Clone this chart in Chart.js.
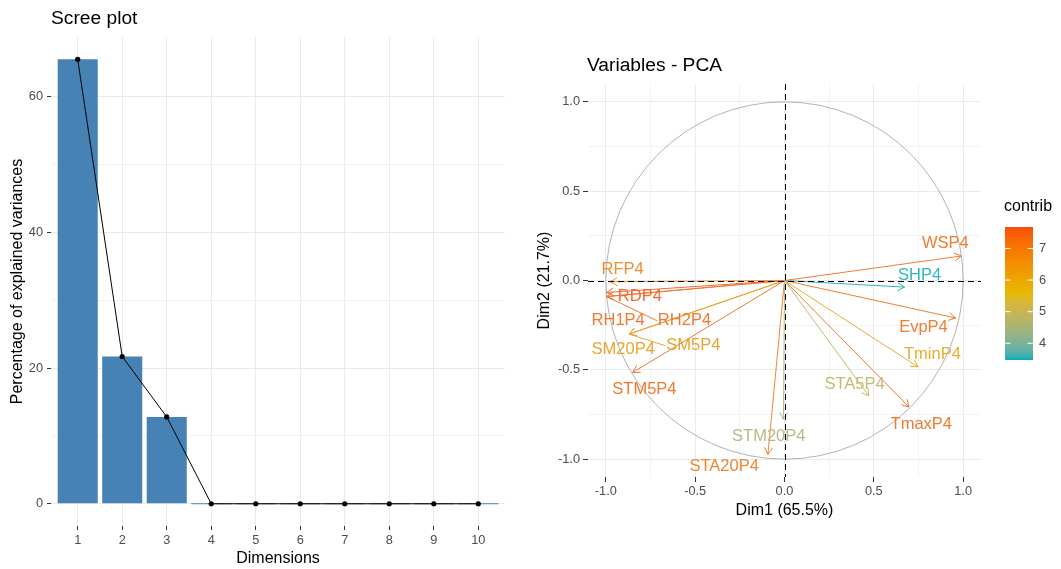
<!DOCTYPE html>
<html><head><meta charset="utf-8">
<script src="https://cdn.jsdelivr.net/npm/chart.js@4/dist/chart.umd.min.js"></script>
<style>
html,body{margin:0;padding:0;background:#fff;width:1061px;height:569px;overflow:hidden}
#w1{position:absolute;left:0;top:0;width:520px;height:569px}
#w2{position:absolute;left:530px;top:0;width:531px;height:569px}
</style></head><body>
<div id="w1"><canvas id="c1" width="520" height="569"></canvas></div>
<div id="w2"><canvas id="c2" width="531" height="569"></canvas></div>
<script>
// ---------------- data ----------------
const dimensions = [1, 2, 3, 4, 5, 6, 7, 8, 9, 10];
const explainedVariance = [65.5, 21.7, 12.8, 0, 0, 0, 0, 0, 0, 0];
const screeYTicks = [0, 20, 40, 60];
const screeYMinor = [10, 30, 50];

const variables = ['WSP4','SHP4','EvpP4','TminP4','STA5P4','TmaxP4','STM20P4','STA20P4','STM5P4','SM20P4','SM5P4','RH1P4','RH2P4','RFP4','RDP4'];
const dim1 = [0.99, 0.672, 0.958, 0.747, 0.472, 0.697, -0.006, -0.093, -0.85, -0.87, -0.87, -0.995, -0.995, -0.975, -0.995];
const dim2 = [0.137, -0.037, -0.21, -0.483, -0.646, -0.708, -0.777, -0.974, -0.515, -0.30, -0.30, -0.09, -0.09, -0.007, -0.067];
const contrib = [7.3, 3.47, 7.3, 6.05, 4.9, 7.4, 4.6, 7.1, 7.4, 6.3, 6.3, 7.4, 7.4, 6.9, 7.68];
const pcaTickValues = [-1, -0.5, 0, 0.5, 1];
const pcaTickLabels = ['-1.0', '-0.5', '0.0', '0.5', '1.0'];
const pcaMinorTicks = [-0.75, -0.25, 0.25, 0.75];
const contribTicks = [4, 5, 6, 7];

// label placement (layout only, in axis units) – repelled text positions
const labelPlacement = {
  WSP4: [0.90, 0.21], SHP4: [0.756, 0.028], EvpP4: [0.778, -0.262], TminP4: [0.828, -0.412],
  STA5P4: [0.392, -0.584], TmaxP4: [0.766, -0.805], STM20P4: [-0.088, -0.875], STA20P4: [-0.338, -1.039],
  STM5P4: [-0.784, -0.608], SM20P4: [-0.903, -0.384], SM5P4: [-0.51, -0.365], RH1P4: [-0.931, -0.225],
  RH2P4: [-0.56, -0.225], RFP4: [-0.906, 0.062], RDP4: [-0.81, -0.09]
};
const labelLeaders = ['RH2P4', 'SM5P4'];

// ---------------- style helpers ----------------
const FONT = '"Liberation Sans", Arial, sans-serif';
Chart.defaults.font.family = FONT;
Chart.defaults.animation = false;
const TICK_TXT = '#4D4D4D';
const GRID = '#EBEBEB';
const GRID_MINOR = '#F3F3F3';
const TICK_MARK = '#333333';

function hex2rgb(h){return [1,3,5].map(i=>parseInt(h.slice(i,i+2),16));}
function lin(c){c/=255;return c<=0.04045?c/12.92:Math.pow((c+0.055)/1.055,2.4);}
function delin(c){c=c<=0.0031308?12.92*c:1.055*Math.pow(c,1/2.4)-0.055;return Math.max(0,Math.min(255,Math.round(c*255)));}
function rgb2lab(rgb){const [r,g,b]=rgb.map(lin);const X=(0.4124*r+0.3576*g+0.1805*b)/0.95047,Y=(0.2126*r+0.7152*g+0.0722*b),Z=(0.0193*r+0.1192*g+0.9505*b)/1.08883;const f=t=>t>0.008856?Math.cbrt(t):7.787*t+16/116;const fx=f(X),fy=f(Y),fz=f(Z);return [116*fy-16,500*(fx-fy),200*(fy-fz)];}
function lab2rgb(lab){const fy=(lab[0]+16)/116,fx=fy+lab[1]/500,fz=fy-lab[2]/200;const fi=t=>t*t*t>0.008856?t*t*t:(t-16/116)/7.787;const X=fi(fx)*0.95047,Y=fi(fy),Z=fi(fz)*1.08883;const r=3.2406*X-1.5372*Y-0.4986*Z,g=-0.9689*X+1.8758*Y+0.0415*Z,b=0.0557*X-0.2040*Y+1.0570*Z;return [delin(r),delin(g),delin(b)];}
const gradStops = ['#00AFBB','#E7B800','#FC4E07'].map(h=>rgb2lab(hex2rgb(h)));
const cMin = Math.min(...contrib), cMax = Math.max(...contrib);
function contribRGB(v){
  let t=(v-cMin)/(cMax-cMin); t=Math.max(0,Math.min(1,t));
  const s=t*2; const i=Math.min(1,Math.floor(s)); const u=s-i;
  const a=gradStops[i], b=gradStops[i+1];
  return lab2rgb(a.map((x,k)=>x+(b[k]-x)*u));
}
function contribColor(v){ const c = contribRGB(v); return `rgb(${c[0]},${c[1]},${c[2]})`; }
// slightly softened tone for thin marks and text (as in the rendered reference)
function markColor(v){ const c = contribRGB(v).map(x => Math.round(x * 0.78 + 205 * 0.22)); return `rgb(${c[0]},${c[1]},${c[2]})`; }

const titlePlugin = {
  id: 'plotTitle',
  afterDraw(chart, args, opts) {
    const ctx = chart.ctx; ctx.save();
    ctx.font = `19.2px ${FONT}`; ctx.fillStyle = '#000';
    ctx.textAlign = 'left'; ctx.textBaseline = 'middle';
    ctx.fillText(opts.text, opts.x, opts.y); ctx.restore();
  }
};

// ---------------- Scree plot ----------------
const screePoints = dimensions.map((d, i) => ({x: d, y: explainedVariance[i]}));
new Chart(document.getElementById('c1'), {
  type: 'bar',
  data: { datasets: [
    { type: 'line', data: screePoints, borderColor: '#000', borderWidth: 1, pointRadius: 2.6,
      pointBackgroundColor: '#000', pointBorderWidth: 0, order: 0 },
    { type: 'bar', data: screePoints, backgroundColor: '#4682B4', barPercentage: 0.9,
      categoryPercentage: 1, minBarLength: 1, order: 1 }
  ]},
  plugins: [titlePlugin],
  options: {
    responsive: false, maintainAspectRatio: false,
    layout: { padding: { left: 0, right: 15, top: 37, bottom: 0 } },
    plugins: { legend: { display: false }, tooltip: { enabled: false },
      plotTitle: { text: 'Scree plot', x: 51, y: 19 } },
    scales: {
      x: { type: 'linear', min: 0.4, max: 10.6, offset: false,
        afterBuildTicks: s => { s.ticks = dimensions.map(v => ({value: v})); },
        afterFit: s => { s.height = 43; },
        ticks: { color: TICK_TXT, font: { size: 12.8 }, padding: 3, maxRotation: 0, autoSkip: false,
          callback: v => String(v) },
        grid: { offset: false, color: GRID, lineWidth: 1, tickColor: TICK_MARK, tickLength: 4, tickWidth: 1 },
        border: { display: false },
        title: { display: true, text: 'Dimensions', color: '#000', font: { size: 16 }, padding: { top: 0, bottom: 1 } }
      },
      y: { min: -3.275, max: 68.775,
        afterBuildTicks: s => { s.ticks = screeYTicks.concat(screeYMinor).sort((a,b)=>a-b).map(v => ({value: v})); },
        afterFit: s => { s.width = 51; },
        ticks: { color: TICK_TXT, font: { size: 12.8 }, padding: 4,
          callback: v => screeYTicks.includes(v) ? String(v) : '' },
        grid: { color: c => screeYTicks.includes(c.tick.value) ? GRID : GRID_MINOR, lineWidth: 1,
          tickColor: c => screeYTicks.includes(c.tick.value) ? TICK_MARK : 'rgba(0,0,0,0)', tickLength: 4, tickWidth: 1 },
        border: { display: false },
        title: { display: true, text: 'Percentage of explained variances', color: '#000', font: { size: 16 }, padding: { top: 8, bottom: 0 } }
      }
    }
  }
});

// ---------------- PCA variables plot ----------------
const pcaDecor = {
  id: 'pcaDecor',
  beforeDatasetsDraw(chart) {
    const {ctx, scales: {x, y}} = chart;
    const cx = x.getPixelForValue(0), cy = y.getPixelForValue(0);
    const rx = x.getPixelForValue(1) - cx, ry = cy - y.getPixelForValue(1);
    ctx.save(); ctx.strokeStyle = '#B3B3B3'; ctx.lineWidth = 1;
    ctx.beginPath(); ctx.ellipse(cx, cy, rx, ry, 0, 0, Math.PI * 2); ctx.stroke(); ctx.restore();
  },
  afterDatasetsDraw(chart) {
    const {ctx, chartArea: ca, scales: {x, y}} = chart;
    const x0 = x.getPixelForValue(0), y0 = y.getPixelForValue(0);
    ctx.save();
    // arrow heads
    variables.forEach((name, i) => {
      const px = x.getPixelForValue(dim1[i]), py = y.getPixelForValue(dim2[i]);
      const ang = Math.atan2(py - y0, px - x0), L = 8, A = Math.PI / 6;
      ctx.strokeStyle = markColor(contrib[i]); ctx.lineWidth = 1;
      ctx.beginPath();
      ctx.moveTo(px - L * Math.cos(ang - A), py - L * Math.sin(ang - A));
      ctx.lineTo(px, py);
      ctx.lineTo(px - L * Math.cos(ang + A), py - L * Math.sin(ang + A));
      ctx.stroke();
    });
    // dashed reference lines
    ctx.strokeStyle = '#000'; ctx.lineWidth = 1; ctx.setLineDash([6, 4]);
    ctx.beginPath(); ctx.moveTo(ca.left, Math.round(y0) + 0.5); ctx.lineTo(ca.right, Math.round(y0) + 0.5);
    ctx.moveTo(Math.round(x0) + 0.5, ca.top); ctx.lineTo(Math.round(x0) + 0.5, ca.bottom); ctx.stroke();
    ctx.setLineDash([]);
    // labels
    ctx.font = `16.5px ${FONT}`; ctx.textAlign = 'center'; ctx.textBaseline = 'middle';
    variables.forEach((name, i) => {
      const [lx, ly] = labelPlacement[name];
      const tx = x.getPixelForValue(lx), ty = y.getPixelForValue(ly);
      const col = markColor(contrib[i]);
      if (labelLeaders.includes(name)) {
        const w = ctx.measureText(name).width;
        ctx.strokeStyle = col; ctx.lineWidth = 1;
        ctx.beginPath(); ctx.moveTo(x.getPixelForValue(dim1[i]), y.getPixelForValue(dim2[i]));
        ctx.lineTo(tx - w / 2 - 1, ty); ctx.stroke();
      }
      ctx.fillStyle = col; ctx.fillText(name, tx, ty);
    });
    ctx.restore();
  },
  afterDraw(chart) {
    const ctx = chart.ctx;
    const bx = 475, bw = 28, top = 227, bot = 360;
    ctx.save();
    ctx.font = `16px ${FONT}`; ctx.fillStyle = '#000'; ctx.textAlign = 'left'; ctx.textBaseline = 'middle';
    ctx.fillText('contrib', 474, 207);
    const g = ctx.createLinearGradient(0, bot, 0, top);
    for (let k = 0; k <= 40; k++) { g.addColorStop(k / 40, contribColor(cMin + (cMax - cMin) * k / 40)); }
    ctx.fillStyle = g; ctx.fillRect(bx, top, bw, bot - top);
    ctx.font = `12.8px ${FONT}`; ctx.fillStyle = TICK_TXT;
    contribTicks.forEach(v => {
      const ty = top + (cMax - v) / (cMax - cMin) * (bot - top);
      ctx.strokeStyle = '#fff'; ctx.lineWidth = 1;
      ctx.beginPath(); ctx.moveTo(bx, ty); ctx.lineTo(bx + 5.5, ty); ctx.moveTo(bx + bw - 5.5, ty); ctx.lineTo(bx + bw, ty); ctx.stroke();
      ctx.fillText(String(v), bx + bw + 6, ty);
    });
    ctx.restore();
  }
};

const pcaAxis = (titleText, fitFn, pad) => ({
  type: 'linear', min: -1.1, max: 1.1,
  afterBuildTicks: s => { s.ticks = pcaTickValues.concat(pcaMinorTicks).sort((a,b)=>a-b).map(v => ({value: v})); },
  afterFit: fitFn,
  ticks: { color: TICK_TXT, font: { size: 12.8 }, padding: pad, maxRotation: 0, autoSkip: false,
    callback: v => { const k = pcaTickValues.indexOf(v); return k >= 0 ? pcaTickLabels[k] : ''; } },
  grid: { color: c => pcaTickValues.includes(c.tick.value) ? GRID : GRID_MINOR, lineWidth: 1,
    tickColor: c => pcaTickValues.includes(c.tick.value) ? TICK_MARK : 'rgba(0,0,0,0)', tickLength: 5, tickWidth: 1 },
  border: { display: false },
  title: { display: true, text: titleText, color: '#000', font: { size: 16 } }
});

const xAxisPCA = pcaAxis('Dim1 (65.5%)', s => { s.height = 45; }, 2);
xAxisPCA.title.padding = { top: 0, bottom: 1.5 };
const yAxisPCA = pcaAxis('Dim2 (21.7%)', s => { s.width = 58; }, 3);
yAxisPCA.title.padding = { top: 5, bottom: 0 };

new Chart(document.getElementById('c2'), {
  type: 'scatter',
  data: { datasets: variables.map((name, i) => ({
    label: name,
    data: [{x: 0, y: 0}, {x: dim1[i], y: dim2[i]}],
    showLine: true, borderColor: markColor(contrib[i]), borderWidth: 1, pointRadius: 0, fill: false
  })) },
  plugins: [pcaDecor, titlePlugin],
  options: {
    responsive: false, maintainAspectRatio: false,
    layout: { padding: { left: 0, right: 80, top: 84, bottom: 47 } },
    plugins: { legend: { display: false }, tooltip: { enabled: false },
      plotTitle: { text: 'Variables - PCA', x: 57, y: 65.5 } },
    scales: { x: xAxisPCA, y: yAxisPCA }
  }
});
</script>
</body></html>
